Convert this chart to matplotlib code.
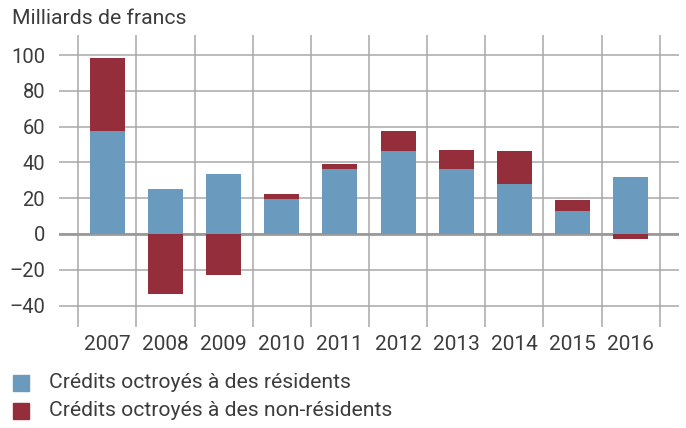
import matplotlib
matplotlib.use("Agg")
import matplotlib.pyplot as plt
from matplotlib.patches import Rectangle
import numpy as np

plt.rcParams["font.family"] = ["Roboto", "DejaVu Sans"]

years = ["2007", "2008", "2009", "2010", "2011", "2012", "2013", "2014", "2015", "2016"]
residents = [57.5, 25.1, 33.5, 19.6, 36.3, 46.4, 36.3, 27.9, 12.8, 31.8]
non_residents = [40.8, -33.5, -22.9, 2.7, 2.8, 11.1, 10.6, 18.5, 6.2, -2.6]
labels = ["Crédits octroyés à des résidents", "Crédits octroyés à des non-résidents"]

BLUE = "#6a9bbf"
RED = "#942e3b"
GRID = "#a8a8a8"
INK = "#3c3c3c"

fig = plt.figure(figsize=(6.86, 4.28), dpi=100)
ax = fig.add_axes([59 / 686, 1 - 327 / 428, 620 / 686, 292 / 428])

x = np.arange(len(years))
res = np.array(residents)
non = np.array(non_residents)
# non-resident part stacks on top of positive residents, or below zero when negative
bottom_non = np.where(non >= 0, res, 0)
ax.bar(x, res, width=0.6, color=BLUE, zorder=3)
ax.bar(x, non, width=0.6, bottom=bottom_non, color=RED, zorder=3)

ax.set_xlim(-0.83, len(years) - 1 + 0.83)
ax.set_ylim(-52, 111.2)
ax.set_yticks(np.arange(-40, 101, 20))
ax.set_yticklabels(["\u201340", "\u201320", "0", "20", "40", "60", "80", "100"])
ax.set_xticks(x)
ax.set_xticklabels(years)
ax.set_xticks(np.arange(-0.5, len(years), 1), minor=True)

ax.grid(axis="y", which="major", color=GRID, lw=1.1, zorder=0)
ax.grid(axis="x", which="minor", color=GRID, lw=1.1, zorder=0)
ax.axhline(0, color="#9a9a9a", lw=2, zorder=2)
for s in ax.spines.values():
    s.set_visible(False)
ax.tick_params(axis="both", which="both", length=0, colors=INK)
ax.tick_params(axis="y", pad=10, labelsize=14.5)
ax.tick_params(axis="x", pad=6, labelsize=15)

fig.text(12 / 686, 1 - 18 / 428, "Milliards de francs", fontsize=15.3, color=INK,
         va="center", ha="left")

# legend
for i, (lab, col) in enumerate(zip(labels, [BLUE, RED])):
    yc = 383 + i * 28
    fig.patches.append(Rectangle((13 / 686, 1 - (yc + 8) / 428), 16 / 686, 16 / 428,
                                 transform=fig.transFigure, color=col, figure=fig))
    fig.text(49 / 686, 1 - yc / 428, lab, fontsize=15.2, color=INK, va="center", ha="left")

fig.savefig("out.png", dpi=100, facecolor="white")
